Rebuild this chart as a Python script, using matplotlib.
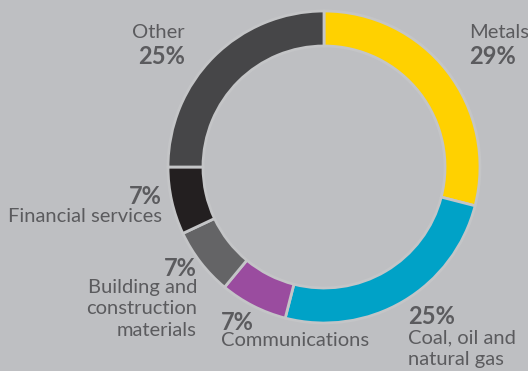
import matplotlib
matplotlib.use("Agg")
import matplotlib.pyplot as plt

# Sector split of the portfolio
sectors = ["Metals", "Coal, oil and\nnatural gas", "Communications",
           "Building and\nconstruction\nmaterials", "Financial services", "Other"]
shares = [29, 25, 7, 7, 7, 25]
colors = ["#FFD100", "#00A2C7", "#9A4C9F", "#646466", "#231F20", "#464648"]

BG = "#BEBFC2"
TXT = "#5B5B5E"
W, H = 528, 371

fig = plt.figure(figsize=(W / 100, H / 100), dpi=100, facecolor=BG)
ax = fig.add_axes([0, 0, 1, 1])
ax.set_facecolor(BG)

cx, cy, R = 324, H - 167, 156
ax.pie(shares, colors=colors, startangle=90, counterclock=False,
       center=(cx, cy), radius=R, frame=True,
       wedgeprops=dict(width=35, edgecolor="#C4C5C7", linewidth=2))
ax.set_xlim(0, W)
ax.set_ylim(0, H)
ax.set_aspect("equal")
ax.axis("off")

fam = ["Lato", "DejaVu Sans"]
name_fs, pct_fs = 14.5, 17
STEP = 22


def label(x, name_y, pct_y, name, pct, ha):
    """Place a sector name (line by line) and its percentage; y in pixels from the top."""
    ax.text(x, H - pct_y, f"{pct}%", ha=ha, va="center", fontsize=pct_fs,
            fontweight="bold", color=TXT, family=fam)
    for i, line in enumerate(name.split("\n")):
        ax.text(x, H - (name_y + i * STEP), line, ha=ha, va="center",
                fontsize=name_fs, color=TXT, family=fam)


label(185, 33, 56, sectors[5], shares[5], "right")
label(469, 33, 56, sectors[0], shares[0], "left")
label(162, 217, 197, sectors[4], shares[4], "right")
label(197, 287, 268, sectors[3], shares[3], "right")
label(221, 341, 322, sectors[2], shares[2], "left")
label(408, 338, 316, sectors[1], shares[1], "left")

fig.savefig("out.png", dpi=100, facecolor=BG)
